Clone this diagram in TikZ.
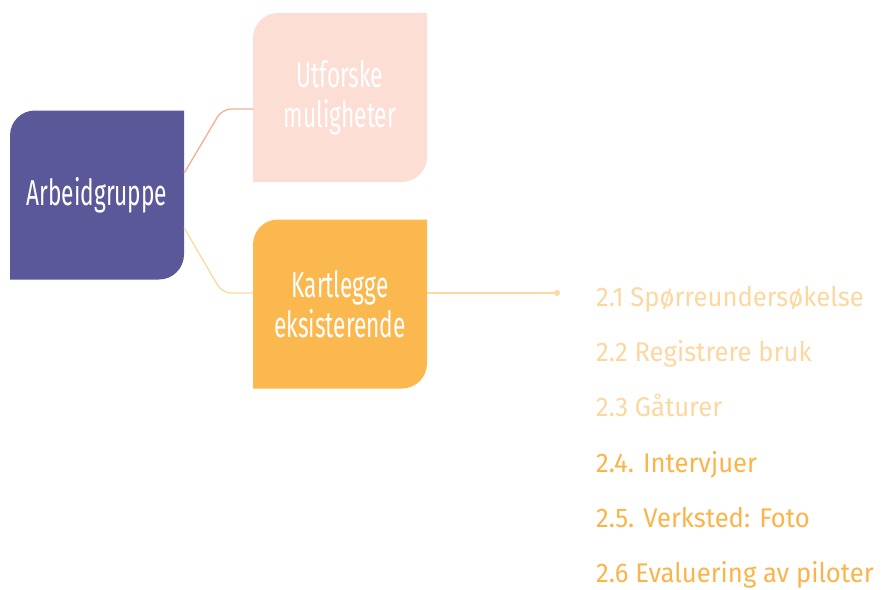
\documentclass[tikz,border=0pt]{standalone}
\usepackage{fontspec}
\setmainfont{Fira Sans}
\newfontfamily\boxfont[FakeStretch=0.63]{Fira Sans}
\newfontfamily\listfont[FakeStretch=0.95]{Fira Sans}
\usetikzlibrary{calc}
\definecolor{arbpurple}{HTML}{5B5899}
\definecolor{utfpink}{HTML}{FCDED5}
\definecolor{pinkline}{HTML}{F5AD93}
\definecolor{kartorange}{HTML}{FBB84F}
\definecolor{orangeline}{HTML}{FDD9A2}
\definecolor{listlight}{HTML}{FDD7A0}
\definecolor{listdark}{HTML}{FBB44A}

\tikzset{
  leaf/.style={minimum width=174pt, minimum height=169pt, inner sep=0pt,
    align=center, text=white, font=\boxfont\fontsize{36}{40}\selectfont,
    path picture={\fill[#1] (path picture bounding box.north east)
      -- ([yshift=25pt]path picture bounding box.south east)
      arc[start angle=0, end angle=-90, radius=25pt]
      -- (path picture bounding box.south west)
      -- ([yshift=-25pt]path picture bounding box.north west)
      arc[start angle=180, end angle=90, radius=25pt] -- cycle;}},
  link/.style={line width=1.3pt, rounded corners=9pt},
  item/.style={anchor=base west, inner sep=0pt, font=\listfont\fontsize{27}{30}\selectfont}
}

\begin{document}
\begin{tikzpicture}[x=1pt, y=-1pt]
\useasboundingbox (0,0) rectangle (882,589);
\node[leaf=arbpurple] (arb) at (97,195) {Arbeidgruppe};
\node[leaf=utfpink] (utf) at (340,97.5) {Utforske\\muligheter};
\node[leaf=kartorange] (kart) at (340,304) {Kartlegge\\eksisterende};

\draw[link, pinkline] ([yshift=22pt]arb.east) -- ++(38,-64) -- ([yshift=-11.5pt]utf.west);
\draw[link, orangeline] ([yshift=-33pt]arb.east) -- ++(38,65) -- ([yshift=11pt]kart.west);

\coordinate (dot) at (557,293);
\draw[orangeline, line width=1.3pt] ([yshift=11pt]kart.east) -- (dot);
\fill[orangeline] (dot) circle (3pt);

\node[item, text=listlight] (s1) at (596,306) {2.1 Spørreundersøkelse};
\node[item, text=listlight] (s2) at (596,361) {2.2 Registrere bruk};
\node[item, text=listlight] (s3) at (596,416.5) {2.3 Gåturer};
\node[item, text=listdark] (s4) at (596,472) {2.4. Intervjuer};
\node[item, text=listdark] (s5) at (596,527) {2.5. Verksted: Foto};
\node[item, text=listdark] (s6) at (596,582) {2.6 Evaluering av piloter};
\end{tikzpicture}
\end{document}
